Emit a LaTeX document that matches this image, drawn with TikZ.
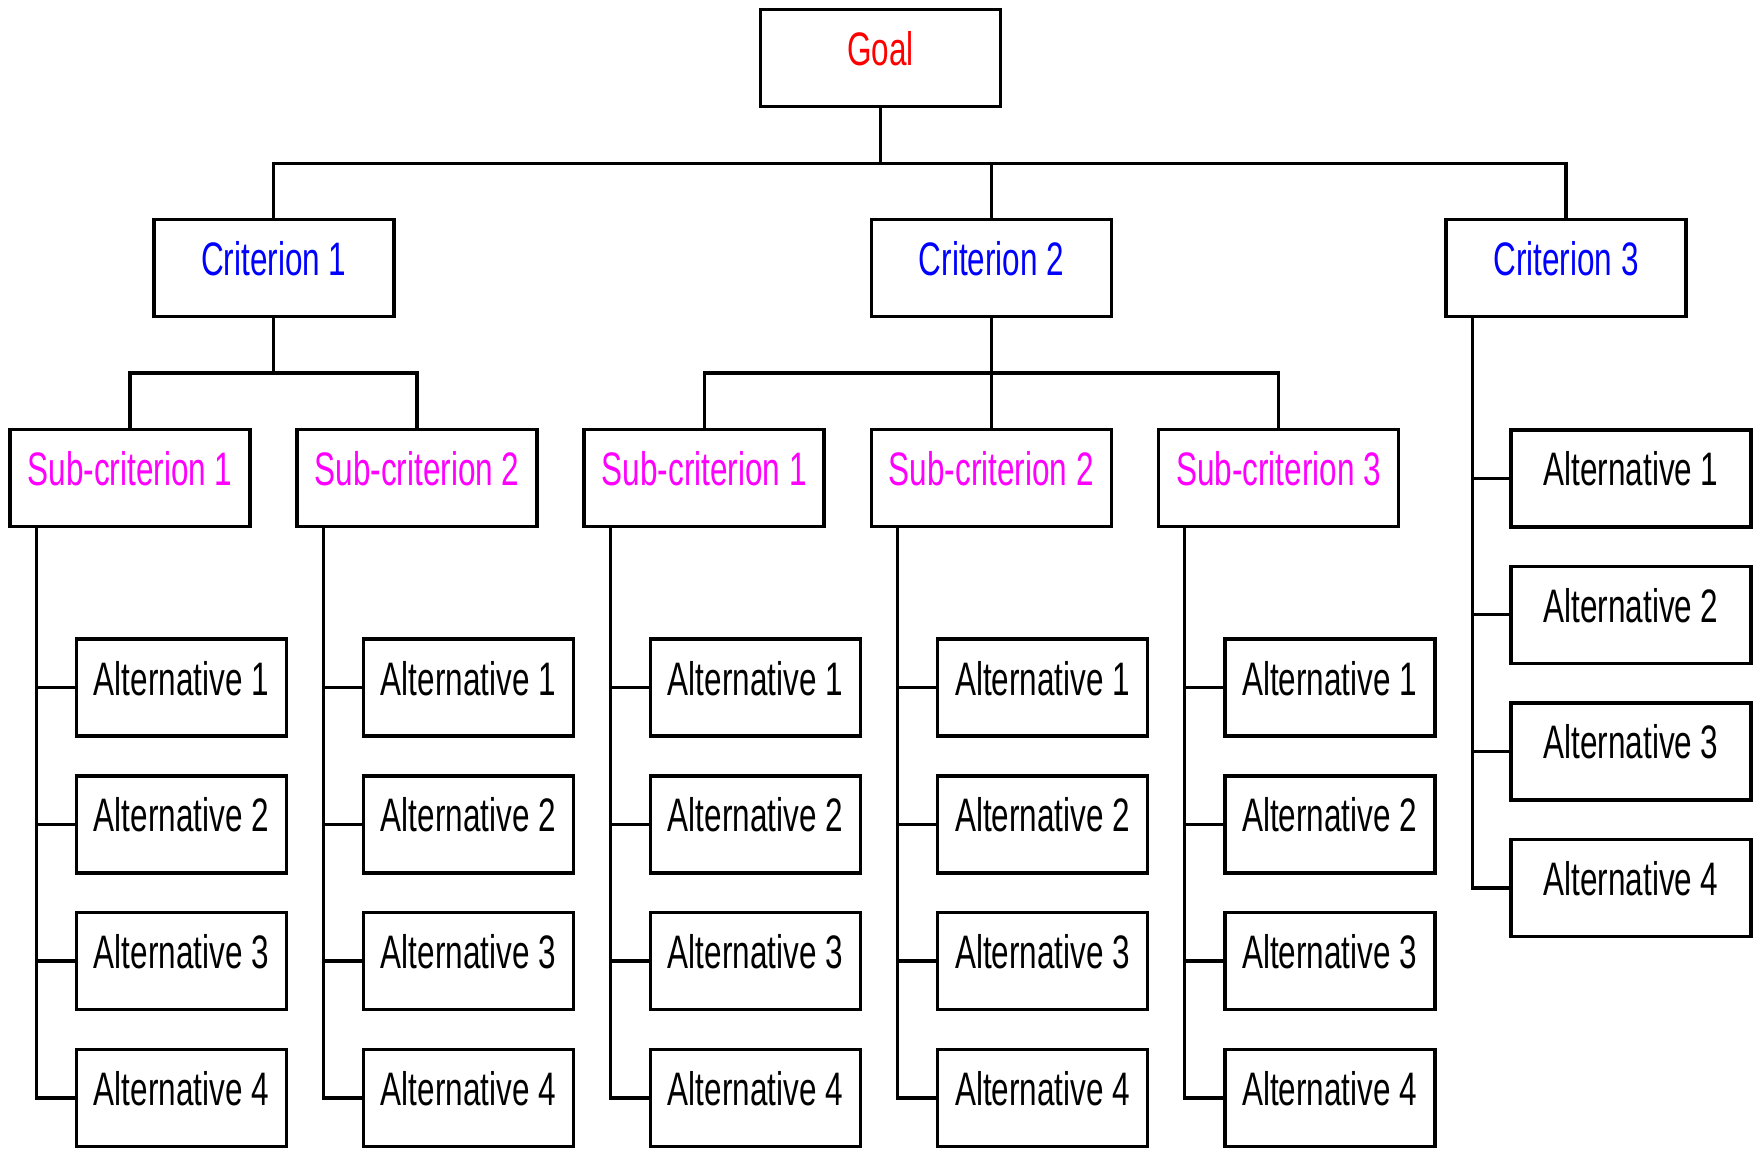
\documentclass[tikz,border=0pt]{standalone}
\usepackage{fontspec}
\setmainfont{Liberation Sans}[FakeStretch=0.67]
\usetikzlibrary{calc}
\definecolor{goalred}{RGB}{255,0,0}
\definecolor{critblue}{RGB}{0,0,255}
\definecolor{submag}{RGB}{255,0,255}
\begin{document}
\begin{tikzpicture}[x=1pt,y=-1pt,
  box/.style={draw, line width=3.6pt, rectangle, inner xsep=0pt, inner ysep=0pt,
    text height=56pt, text depth=41pt, minimum width=240pt,
    font=\fontsize{47}{56}\selectfont},
  altbox/.style={box, minimum width=210pt},
  goalbox/.style={box, text=goalred},
  critbox/.style={box, text=critblue},
  subbox/.style={box, text=submag},
  conn/.style={line width=3.3pt}]
\useasboundingbox (0,0) rectangle (1760,1148);

% goal and criteria
\node[goalbox] (goal) at (880.5,58) {Goal};
\node[critbox] (c1) at (273.7,268) {Criterion 1};
\node[critbox] (c2) at (991.5,268) {Criterion 2};
\node[critbox] (c3) at (1566,268) {Criterion 3};

% sub-criteria
\foreach \i/\lab in {1/1,2/2,3/1,4/2,5/3}
  \node[subbox] (s\i) at ({130+287.1*(\i-1)},478) {Sub-criterion \lab};

% alternatives below each sub-criterion
\foreach \i in {1,...,5}
  \foreach \k in {1,...,4}
    \node[altbox] (a\i-\k) at ({181.3+287.1*(\i-1)},{687.5+136.8*(\k-1)}) {Alternative \k};

% alternatives directly below criterion 3
\foreach \k in {1,...,4}
  \node[box] (b\k) at (1631,{478.2+136.6*(\k-1)}) {Alternative \k};

% bus levels
\coordinate (busT) at (0,163.5);
\coordinate (busS) at (0,373);

% goal to criteria
\draw[conn] (goal.south) -- (goal.south |- busT);
\draw[conn] (c1.north) -- (c1.north |- busT) -- (c3.north |- busT) -- (c3.north);
\draw[conn] (c2.north) -- (c2.north |- busT);

% criteria to sub-criteria
\draw[conn] (c1.south) -- (c1.south |- busS);
\draw[conn] (s1.north) -- (s1.north |- busS) -- (s2.north |- busS) -- (s2.north);
\draw[conn] (c2.south) -- (c2.south |- s4.north);
\draw[conn] (s3.north) -- (s3.north |- busS) -- (s5.north |- busS) -- (s5.north);

% sub-criteria to alternatives
\foreach \i in {1,...,5} {
  \coordinate (t\i) at ($(s\i.south west)+(28,0)$);
  \draw[conn] (t\i) |- (a\i-4.west);
  \foreach \k in {1,2,3}
    \draw[conn] (a\i-\k.west) -- (a\i-\k.west -| t\i);
}

% criterion 3 to alternatives
\coordinate (t6) at ($(c3.south west)+(28,0)$);
\draw[conn] (t6) |- (b4.west);
\foreach \k in {1,2,3}
  \draw[conn] (b\k.west) -- (b\k.west -| t6);
\end{tikzpicture}
\end{document}
